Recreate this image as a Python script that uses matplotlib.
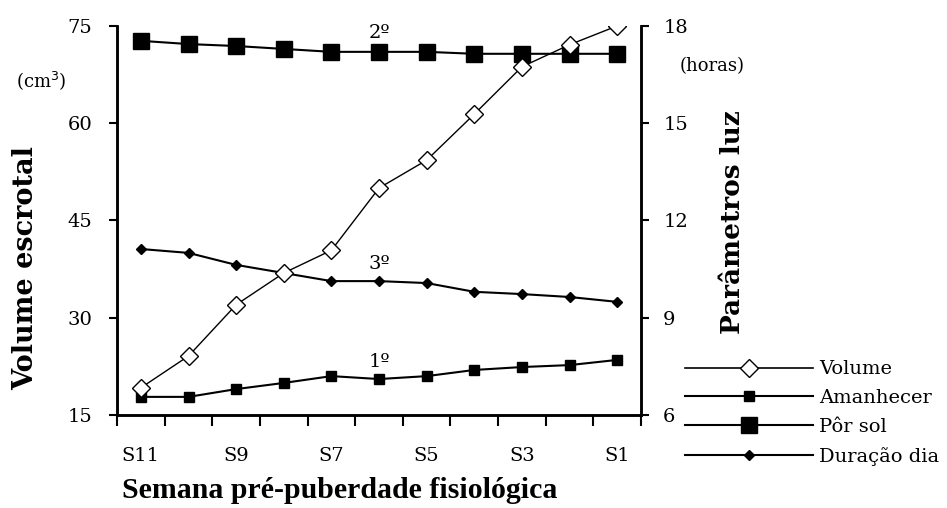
import numpy as np
import matplotlib.pyplot as plt

# weeks before physiological puberty
semanas = ["S11", "S10", "S9", "S8", "S7", "S6", "S5", "S4", "S3", "S2", "S1"]

volume = [19.2, 24.1, 32.0, 36.9, 40.4, 50.0, 54.3, 61.4, 68.7, 72.1, 75.0]
amanhecer = [6.56, 6.56, 6.80, 6.99, 7.20, 7.11, 7.20, 7.39, 7.48, 7.54, 7.70]
por_sol = [17.54, 17.44, 17.38, 17.29, 17.20, 17.20, 17.20, 17.14, 17.14, 17.14, 17.14]
duracao = [11.12, 11.00, 10.63, 10.38, 10.13, 10.13, 10.07, 9.80, 9.73, 9.64, 9.49]

plt.rcParams["font.family"] = ["DejaVu Serif"]

fig = plt.figure(figsize=(9.47, 5.08), dpi=100)
ax = fig.add_axes([0.1236, 0.183, 0.5533, 0.766])
ax2 = ax.twinx()

x = np.arange(len(semanas))

# light parameters on the right axis
l_am, = ax2.plot(x, amanhecer, color="black", lw=1.5, marker="s", markersize=6.5,
                 label="Amanhecer")
l_ps, = ax2.plot(x, por_sol, color="black", lw=1.5, marker="s", markersize=12,
                 label="Pôr sol")
l_du, = ax2.plot(x, duracao, color="black", lw=1.5, marker="D", markersize=5,
                 label="Duração dia")
l_vol, = ax2.plot([], [], color="black", lw=1.2, marker="D", markersize=9,
                  markerfacecolor="white", label="Volume")

# scrotal volume on the left axis, drawn on top
ax.set_zorder(ax2.get_zorder() + 1)
ax.patch.set_visible(False)
ax.plot(x, volume, color="black", lw=1.0, marker="D", markersize=9,
        markerfacecolor="white", markeredgewidth=1.0)

ax.set_xlim(-0.5, len(semanas) - 0.5)
ax.set_ylim(15, 75)
ax2.set_ylim(6, 18)
ax.set_yticks([15, 30, 45, 60, 75])
ax2.set_yticks([6, 9, 12, 15, 18])

# category labels every other week, tick marks between categories
ax.set_xticks(x[::2])
ax.set_xticklabels(semanas[::2])
ax.set_xticks(np.arange(-0.5, len(semanas)), minor=True)
ax.tick_params(axis="x", which="major", length=0, pad=23, labelsize=14)
ax.tick_params(axis="x", which="minor", length=8, width=1.5, direction="out")
ax.tick_params(axis="y", length=6, width=1.5, labelsize=14, pad=12)
ax2.tick_params(axis="y", length=6, width=1.5, labelsize=14, pad=10)

for a in (ax, ax2):
    a.spines["top"].set_visible(False)
    for s in ("left", "right", "bottom"):
        a.spines[s].set_linewidth(1.8)

fig.text(0.359, 0.035, "Semana pré-puberdade fisiológica", fontsize=21.5,
         fontweight="bold", family="Liberation Serif", ha="center", va="center")
fig.text(0.027, 0.472, "Volume escrotal", rotation=90, fontsize=19.5,
         fontweight="bold", ha="center", va="center")
fig.text(0.774, 0.563, "Parâmetros luz", rotation=90, fontsize=19,
         fontweight="bold", ha="center", va="center")
fig.text(0.044, 0.842, "(cm$^3$)", fontsize=13, ha="center", va="center")
fig.text(0.752, 0.87, "(horas)", fontsize=13, ha="center", va="center")

# ordinal labels next to the light curves
ax2.text(5, por_sol[5] + 0.3, "2º", fontsize=14, ha="center", va="bottom")
ax2.text(5, duracao[5] + 0.25, "3º", fontsize=14, ha="center", va="bottom")
ax2.text(5, amanhecer[5] + 0.25, "1º", fontsize=14, ha="center", va="bottom")

fig.legend(handles=[l_vol, l_am, l_ps, l_du], loc="upper left",
           bbox_to_anchor=(0.715, 0.306), frameon=False, fontsize=14,
           handlelength=6.6, handletextpad=0.3, labelspacing=0.56,
           borderaxespad=0)

fig.savefig("out.png", dpi=100)
